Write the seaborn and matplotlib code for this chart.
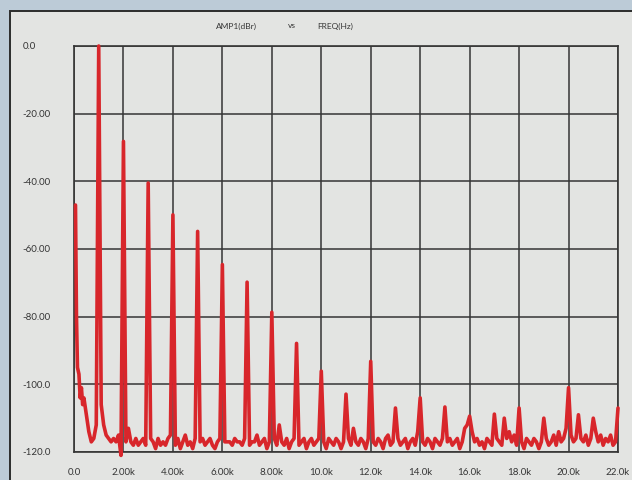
import matplotlib
matplotlib.use("Agg")
import matplotlib.pyplot as plt
from matplotlib.patches import Rectangle
import numpy as np
import pandas as pd
import seaborn as sns

# Harmonic spectrum of a 1 kHz tone, level in dBr
harmonic_khz = list(range(1, 23))
harmonic_dbr = [0.0, -28.2, -40.5, -49.9, -54.8, -64.6, -69.8, -78.7,
                -87.9, -96.1, -102.9, -93.2, -107.0, -104.0, -106.7, -109.4,
                -108.8, -107.0, -110.0, -101.0, -110.0, -107.0]

# Low-frequency leakage below the fundamental
dc_khz = [0.06, 0.10, 0.14, 0.20, 0.25, 0.30, 0.35, 0.40, 0.50, 0.60, 0.70, 0.80, 0.90]
dc_dbr = [-47, -80, -95, -97, -104, -101, -106, -104, -109, -114, -117, -116, -112]

# Noise floor between harmonics: row k holds k.1 ... k.9 kHz
floor_dbr = [
    [-106, -112, -115, -116, -117, -116, -117, -115, -121],  # 1
    [-117, -113, -117, -118, -116, -118, -117, -116, -118],  # 2
    [-116, -117, -119, -116, -118, -117, -118, -116, -115],  # 3
    [-118, -116, -119, -117, -115, -118, -117, -119, -116],  # 4
    [-117, -116, -118, -117, -116, -118, -119, -117, -116],  # 5
    [-117, -117, -117, -118, -116, -117, -117, -118, -116],  # 6
    [-118, -117, -117, -115, -118, -117, -116, -119, -117],  # 7
    [-116, -118, -112, -117, -118, -116, -119, -117, -116],  # 8
    [-118, -117, -116, -119, -117, -116, -118, -117, -116],  # 9
    [-117, -119, -116, -117, -118, -116, -117, -119, -117],  # 10
    [-116, -118, -113, -117, -118, -116, -117, -119, -116],  # 11
    [-117, -118, -116, -117, -119, -116, -115, -118, -117],  # 12
    [-116, -118, -117, -116, -119, -117, -116, -118, -114],  # 13
    [-117, -118, -116, -117, -119, -116, -117, -118, -116],  # 14
    [-117, -116, -118, -117, -116, -119, -117, -113, -112],  # 15
    [-114, -117, -116, -118, -117, -119, -116, -117, -118],  # 16
    [-116, -117, -118, -110, -116, -114, -117, -115, -118],  # 17
    [-117, -119, -116, -117, -118, -116, -117, -119, -117],  # 18
    [-116, -118, -117, -115, -118, -114, -117, -116, -113],  # 19
    [-115, -117, -116, -109, -116, -117, -115, -118, -116],  # 20
    [-114, -117, -115, -118, -116, -117, -115, -118, -117],  # 21
]

x_ticks = [0, 2, 4, 6, 8, 10, 12, 14, 16, 18, 20, 22]
x_labels = ["0.0", "2.00k", "4.00k", "6.00k", "8.00k", "10.0k", "12.0k",
            "14.0k", "16.0k", "18.0k", "20.0k", "22.0k"]
y_ticks = [0, -20, -40, -60, -80, -100, -120]
y_labels = ["0.0", "-20.00", "-40.00", "-60.00", "-80.00", "-100.0", "-120.0"]

# Assemble the trace
freq = list(dc_khz)
level = list(dc_dbr)
for i, (fk, lv) in enumerate(zip(harmonic_khz, harmonic_dbr)):
    freq.append(fk)
    level.append(lv)
    if i < len(floor_dbr):
        for j, v in enumerate(floor_dbr[i]):
            freq.append(fk + (j + 1) / 10)
            level.append(v)
trace = pd.DataFrame({"khz": freq, "dbr": level})

sns.set_style("white")
plt.rcParams["font.family"] = ["Lato", "DejaVu Sans"]

page = "#e3e4e2"
ink = "#353535"
red = "#d8262b"

W, H = 632, 481
fig = plt.figure(figsize=(W / 100, H / 100), dpi=100)
fig.patch.set_facecolor("#bccbd7")

# page sheet with its printed border
sheet = fig.add_axes([0, 0, 1, 1], zorder=-5)
sheet.set_xlim(0, W)
sheet.set_ylim(H, 0)
sheet.axis("off")
sheet.add_patch(Rectangle((10, 12), W + 20, H + 20, facecolor=page,
                          edgecolor="#2c2c2c", linewidth=1.4))

ax = fig.add_axes([74 / W, (H - 453) / H, (618 - 74) / W, (453 - 47) / H], zorder=1)
ax.set_facecolor(page)

sns.lineplot(data=trace, x="khz", y="dbr", ax=ax, color=red, linewidth=2.6,
             estimator=None, sort=False, clip_on=False, zorder=3)

ax.set_xlim(0, 22)
ax.set_ylim(-120, 0)
ax.set_xticks(x_ticks)
ax.set_xticklabels(x_labels)
ax.set_yticks(y_ticks)
ax.set_yticklabels(y_labels)
ax.set_xlabel("")
ax.set_ylabel("")
ax.grid(True, color=ink, linewidth=1.1)
ax.set_axisbelow(True)
for s in ax.spines.values():
    s.set_visible(True)
    s.set_color(ink)
    s.set_linewidth(1.2)
ax.tick_params(axis="both", length=0, labelsize=7, labelcolor=ink)
ax.tick_params(axis="x", pad=11)
ax.tick_params(axis="y", pad=37)
for lab in ax.get_yticklabels():
    lab.set_horizontalalignment("left")
    lab.set_verticalalignment("center")

ty = 1 - 26 / H
fig.text(236 / W, ty, "AMP1(dBr)", ha="center", va="center", fontsize=6, color=ink)
fig.text(292 / W, ty, "vs", ha="center", va="center", fontsize=6, color=ink)
fig.text(335 / W, ty, "FREQ(Hz)", ha="center", va="center", fontsize=6, color=ink)

fig.savefig("out.png", dpi=100, facecolor=fig.get_facecolor())
